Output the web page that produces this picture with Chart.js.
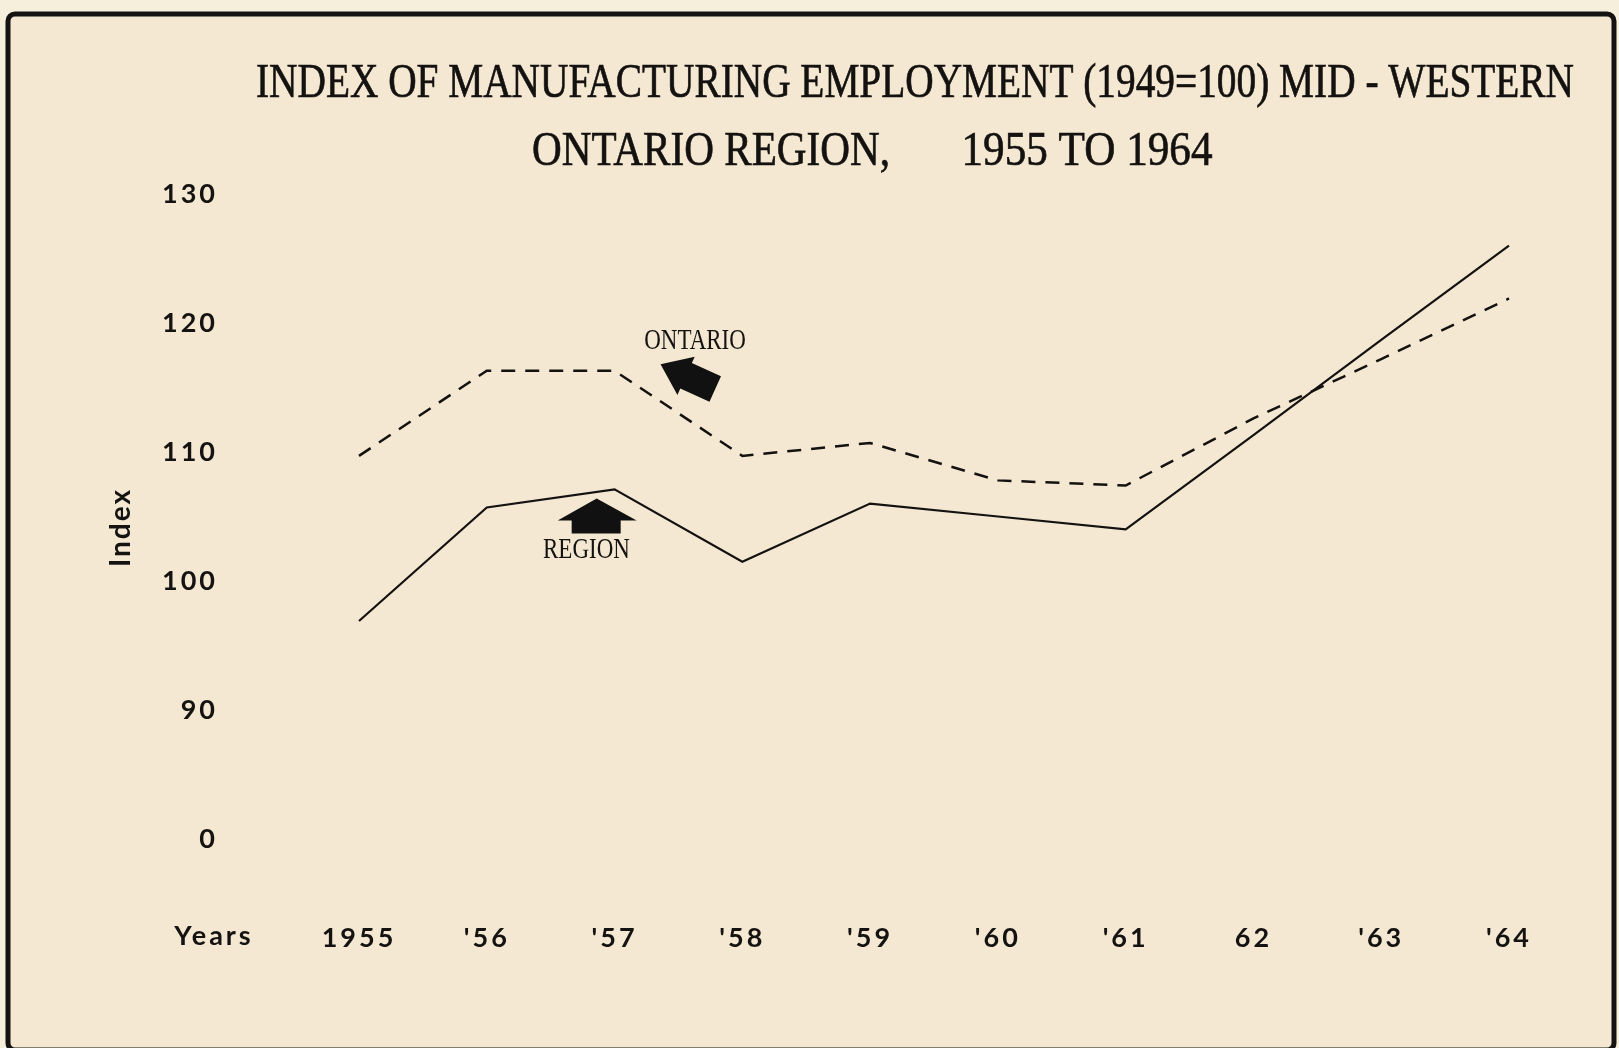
<!DOCTYPE html>
<html><head><meta charset="utf-8">
<script src="https://cdn.jsdelivr.net/npm/chart.js@4.4.1/dist/chart.umd.min.js"></script>
<style>html,body{margin:0;padding:0;background:#f6efdc;} #wrap{width:1619px;height:1048px;position:relative;}</style>
</head><body><div id="wrap"><canvas id="c" width="1619" height="1048"></canvas></div>
<script>
const years = ["1955", "'56", "'57", "'58", "'59", "'60", "'61", "62", "'63", "'64"];
const ontario = [109.7, 116.3, 116.3, 109.7, 110.7, 107.8, 107.4, 112.6, 117.2, 121.9];
const region = [96.9, 105.7, 107.1, 101.5, 106.0, 105.0, 104.0, 111.3, 118.7, 126.0];
const yTickValues = [80, 90, 100, 110, 120, 130];
const yTickLabels = ["0", "90", "100", "110", "120", "130"];
const titleLine1 = "INDEX OF MANUFACTURING EMPLOYMENT (1949=100) MID - WESTERN";
const titleLine2a = "ONTARIO REGION,";
const titleLine2b = "1955 TO 1964";
const axisTitle = "Index";
const xLead = "Years";
const seriesNames = ["ONTARIO", "REGION"];

function drawFitted(ctx, text, cx, baseline, targetW, capH, size) {
  ctx.save();
  ctx.letterSpacing = '0px';
  ctx.font = size + 'px "Liberation Serif"';
  const w = ctx.measureText(text).width;
  const sx = targetW / w, sy = capH / (0.66 * size);
  ctx.translate(cx, baseline);
  ctx.scale(sx, sy);
  ctx.textAlign = 'center';
  ctx.textBaseline = 'alphabetic';
  ctx.fillStyle = '#141210';
  ctx.strokeStyle = '#141210';
  ctx.lineWidth = 0.5;
  ctx.fillText(text, 0, 0);
  ctx.strokeText(text, 0, 0);
  ctx.restore();
}

const decor = {
  id: 'decor',
  beforeDraw(chart) {
    const ctx = chart.ctx;
    ctx.fillStyle = '#f6efdc';
    ctx.fillRect(0, 0, chart.width, chart.height);
    ctx.fillStyle = '#f4e8d2';
    ctx.fillRect(8, 14, chart.width - 14, chart.height - 14);
    ctx.letterSpacing = '3px';
  },
  afterDraw(chart) {
    const ctx = chart.ctx;
    const xs = chart.scales.x, ys = chart.scales.y;
    ctx.save();
    // frame
    ctx.strokeStyle = '#151311';
    ctx.lineWidth = 5;
    ctx.beginPath();
    ctx.roundRect(8, 14, chart.width - 13, chart.height - 12, 7);
    ctx.stroke();
    // titles
    drawFitted(ctx, titleLine1, 915, 97, 1318, 32, 36);
    drawFitted(ctx, titleLine2a, 711, 165, 358, 32, 36);
    drawFitted(ctx, titleLine2b, 1087, 165, 251, 32, 36);
    // Years label
    ctx.letterSpacing = '3px';
    ctx.font = 'bold 27px Lato';
    ctx.fillStyle = '#151311';
    ctx.textAlign = 'center';
    ctx.textBaseline = 'middle';
    ctx.fillText(xLead, 214, 936);
    // Index (axis title)
    ctx.save();
    ctx.translate(121, (ys.top + ys.bottom) / 2 + 11);
    ctx.rotate(-Math.PI / 2);
    ctx.font = 'bold 28px Lato';
    ctx.letterSpacing = '2px';
    ctx.fillText(axisTitle, 0, 0);
    ctx.restore();
    ctx.letterSpacing = '0px';
    // annotation labels
    const ox = xs.getPixelForValue(2.63), oy = ys.getPixelForValue(118.6);
    const rx = xs.getPixelForValue(1.78), ry = ys.getPixelForValue(102.4);
    ctx.save();
    ctx.font = '25px "Liberation Serif"';
    ctx.translate(ox, oy); ctx.scale(0.92, 1.2);
    ctx.fillText(seriesNames[0], 0, 0);
    ctx.restore();
    ctx.save();
    ctx.font = '25px "Liberation Serif"';
    ctx.translate(rx, ry); ctx.scale(0.92, 1.2);
    ctx.fillText(seriesNames[1], 0, 0);
    ctx.restore();
    // Ontario arrow (pointing up-left toward dashed line)
    const tx = xs.getPixelForValue(2.36), ty = ys.getPixelForValue(116.8);
    const ang = Math.atan2(28, 62);
    ctx.save();
    ctx.translate(tx, ty); ctx.rotate(ang);
    ctx.fillStyle = '#111';
    ctx.beginPath();
    ctx.moveTo(0, 0);
    ctx.lineTo(28, -21);
    ctx.lineTo(28, -14);
    ctx.lineTo(60, -14);
    ctx.lineTo(60, 14);
    ctx.lineTo(28, 14);
    ctx.lineTo(28, 21);
    ctx.closePath();
    ctx.fill();
    ctx.restore();
    // Region arrow (pointing up)
    const ux = xs.getPixelForValue(1.86), uy = ys.getPixelForValue(106.4);
    ctx.save();
    ctx.translate(ux, uy);
    ctx.fillStyle = '#111';
    ctx.beginPath();
    ctx.moveTo(0, 0);
    ctx.lineTo(40, 22);
    ctx.lineTo(24, 22);
    ctx.lineTo(24, 35);
    ctx.lineTo(-25, 35);
    ctx.lineTo(-25, 22);
    ctx.lineTo(-39, 22);
    ctx.closePath();
    ctx.fill();
    ctx.restore();
    ctx.restore();
  }
};

new Chart(document.getElementById('c'), {
  type: 'line',
  data: {
    labels: years,
    datasets: [
      { label: seriesNames[0], data: ontario, borderColor: '#141210', borderWidth: 2.5, borderDash: [14, 10], pointRadius: 0, tension: 0, fill: false },
      { label: seriesNames[1], data: region, borderColor: '#141210', borderWidth: 2.2, pointRadius: 0, tension: 0, fill: false }
    ]
  },
  options: {
    responsive: false,
    animation: false,
    events: [],
    layout: { padding: { top: 194, right: 110, bottom: 0, left: 0 } },
    plugins: { legend: { display: false }, tooltip: { enabled: false }, title: { display: false } },
    scales: {
      x: {
        offset: false,
        grid: { display: false, drawTicks: false },
        border: { display: false },
        ticks: { color: '#151311', font: { family: 'Lato', weight: 'bold', size: 27 }, padding: 83, maxRotation: 0, autoSkip: false },
        afterFit(s) { s.height = 209; }
      },
      y: {
        min: 80, max: 130,
        grid: { display: false, drawTicks: false },
        border: { display: false },
        afterBuildTicks(s) { s.ticks = yTickValues.map(v => ({ value: v })); },
        ticks: {
          color: '#151311', font: { family: 'Lato', weight: 'bold', size: 27 }, padding: 141,
          callback: (v) => yTickLabels[yTickValues.indexOf(v)]
        },
        afterFit(s) { s.width = 359; }
      }
    }
  },
  plugins: [decor]
});
</script>
</body></html>
